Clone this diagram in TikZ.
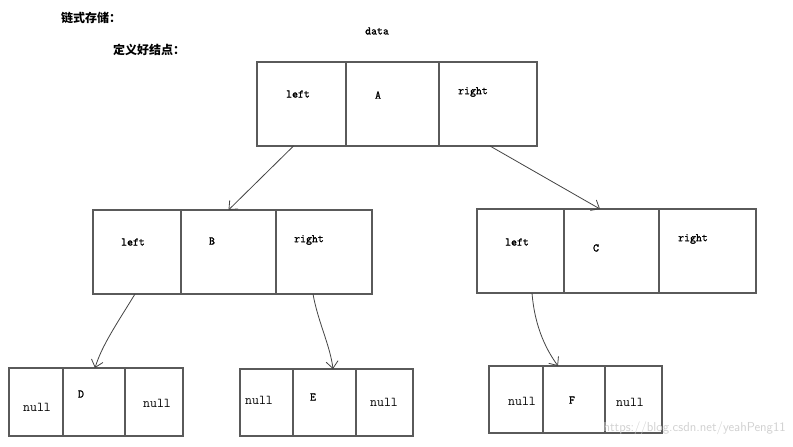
\documentclass[tikz,border=0pt]{standalone}
\usepackage{fontspec}
\newfontfamily\cjk{Noto Sans CJK SC}
\newfontfamily\boldtt[FakeBold=1.6]{Latin Modern Mono}
\newfontfamily\plaintt{Latin Modern Mono}
\usetikzlibrary{arrows.meta}
\definecolor{boxc}{HTML}{5A5A5A}
\definecolor{penc}{HTML}{444444}
\begin{document}
\begin{tikzpicture}[x=1pt,y=-1pt,
  cell/.style={draw=boxc, line width=1.2pt, inner sep=0pt, outer sep=0pt},
  lbl/.style={font=\boldtt\fontsize{11.5}{13}\selectfont, inner sep=0pt, text=black},
  nul/.style={font=\plaintt\fontsize{13.5}{15}\selectfont, inner sep=0pt, text=black},
  title/.style={font=\cjk\bfseries\fontsize{12}{14}\selectfont, inner sep=0pt, anchor=west},
  link/.style={draw=penc, line width=0.8pt, -{Straight Barb[length=7pt,width=12pt,line width=0.8pt]}}]
\useasboundingbox (0,0) rectangle (793,447);
\fill[white] (0,0) rectangle (793,447);
% titles
\node[title] (t1) at (61,18) {链式存储：};
\node[title] (t2) at (113,50) {定义好结点：};
\node[lbl] (data) at (377,31) {data};
% A
\node[cell, minimum width=89pt, minimum height=84pt] (Al) at (301.5,104) {};
\node[cell, minimum width=93pt, minimum height=84pt] (Am) at (392.5,104) {};
\node[cell, minimum width=98pt, minimum height=84pt] (Ar) at (488,104) {};
\node[lbl] (tAl) at (298,94) {left};
\node[lbl] (tAm) at (378,95) {A};
\node[lbl] (tAr) at (473,92) {right};
% B
\node[cell, minimum width=88pt, minimum height=84pt] (Bl) at (137,252) {};
\node[cell, minimum width=95pt, minimum height=84pt] (Bm) at (228.5,252) {};
\node[cell, minimum width=96pt, minimum height=84pt] (Br) at (324,252) {};
\node[lbl] (tBl) at (133,242) {left};
\node[lbl] (tBm) at (212,241) {B};
\node[lbl] (tBr) at (309,240) {right};
% C
\node[cell, minimum width=87pt, minimum height=84pt] (Cl) at (520.5,251) {};
\node[cell, minimum width=95pt, minimum height=84pt] (Cm) at (611.5,251) {};
\node[cell, minimum width=97pt, minimum height=84pt] (Cr) at (707.5,251) {};
\node[lbl] (tCl) at (517,242) {left};
\node[lbl] (tCm) at (596,248) {C};
\node[lbl] (tCr) at (693,239) {right};
% D
\node[cell, minimum width=54pt, minimum height=68pt] (Dl) at (36,402) {};
\node[cell, minimum width=62pt, minimum height=68pt] (Dm) at (94,402) {};
\node[cell, minimum width=58pt, minimum height=68pt] (Dr) at (154,402) {};
\node[nul] (tDl) at (37,407) {null};
\node[lbl] (tDm) at (81,394) {D};
\node[nul] (tDr) at (157,403) {null};
% E
\node[cell, minimum width=53pt, minimum height=67pt] (El) at (266.5,402.5) {};
\node[cell, minimum width=63pt, minimum height=67pt] (Em) at (324.5,402.5) {};
\node[cell, minimum width=57pt, minimum height=67pt] (Er) at (384.5,402.5) {};
\node[nul] (tEl) at (259,400) {null};
\node[lbl] (tEm) at (313,397) {E};
\node[nul] (tEr) at (384,402) {null};
% F
\node[cell, minimum width=54pt, minimum height=67pt] (Fl) at (516,399.5) {};
\node[cell, minimum width=62pt, minimum height=67pt] (Fm) at (574,399.5) {};
\node[cell, minimum width=57pt, minimum height=67pt] (Fr) at (633.5,399.5) {};
\node[nul] (tFl) at (522,401) {null};
\node[lbl] (tFm) at (572,400) {F};
\node[nul] (tFr) at (630,402) {null};
% links
\draw[link] ([xshift=-8pt]Al.south) -- (Bm.north);
\draw[link] ([xshift=2pt]Ar.south) -- ([xshift=-11.5pt]Cm.north);
\draw[link] ([xshift=-2pt]Bl.south) .. controls (118,322) and (102,345) .. ([xshift=1pt]Dm.north);
\draw[link] ([xshift=-11pt]Br.south) .. controls (318,322) and (330,345) .. ([xshift=8.5pt]Em.north);
\draw[link] ([xshift=11.5pt]Cl.south) .. controls (535,330) and (548,352) .. ([xshift=-16pt]Fm.north);
% watermark
\node[font=\sffamily\fontsize{13}{15}\selectfont, text=black!18, inner sep=0pt, anchor=east] (wm) at (786,428) {https://blog.csdn.net/yeahPeng11};
\end{tikzpicture}
\end{document}
